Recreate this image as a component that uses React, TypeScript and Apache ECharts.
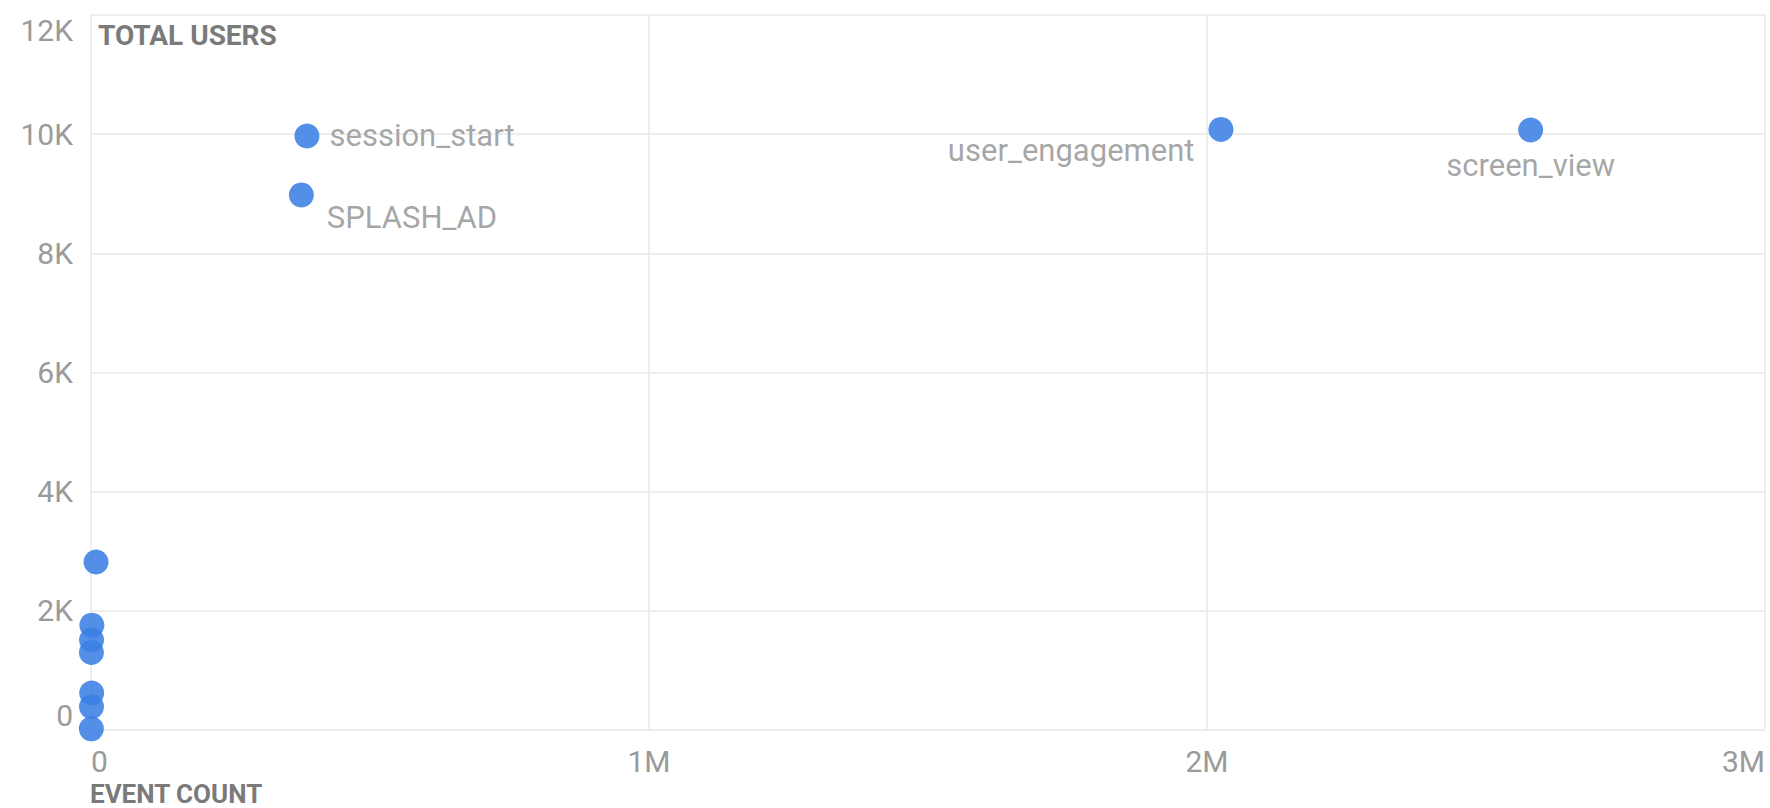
import React, { useEffect, useRef } from "react";
import * as echarts from "echarts";

// Event names (empty = unlabeled small events)
const eventNames: string[] = [
  "screen_view",
  "user_engagement",
  "session_start",
  "SPLASH_AD",
  "",
  "",
  "",
  "",
  "",
  "",
  "",
  "",
];
// Event count (x)
const eventCounts: number[] = [
  2580000, 2025000, 387000, 377000, 9000, 1500, 1000, 800, 1200, 900, 600, 300,
];
// Total users (y)
const totalUsers: number[] = [
  10070, 10080, 9970, 8980, 2820, 1760, 1510, 1300, 620, 390, 20, -40,
];

const xTicks: string[] = ["0", "1M", "2M", "3M"];
const yTicks: string[] = ["0", "2K", "4K", "6K", "8K", "10K", "12K"];

const FONT = "Roboto, 'Noto Sans', sans-serif";
const LABEL_COLOR = "#9a9a9a";

const labelStyles: Record<string, any> = {
  screen_view: { position: "bottom", distance: 8 },
  user_engagement: { position: "left", distance: 14, offset: [0, 21] },
  session_start: { position: "right", distance: 10, offset: [0, 0] },
  SPLASH_AD: { position: "right", distance: 13, offset: [0, 23] },
};

export default function App() {
  const ref = useRef<HTMLDivElement>(null);

  useEffect(() => {
    if (!ref.current) return;
    const chart = echarts.init(ref.current, undefined, { renderer: "svg" });

    const data = eventNames.map((name, i) => {
      const item: any = { name, value: [eventCounts[i], totalUsers[i]] };
      if (name && labelStyles[name]) {
        item.label = {
          show: true,
          formatter: name,
          ...labelStyles[name],
        };
      }
      return item;
    });

    chart.setOption({
      animation: false,
      backgroundColor: "#ffffff",
      grid: { left: 91, right: 5, top: 15, bottom: 78, containLabel: false },
      xAxis: {
        type: "value",
        min: 0,
        max: 3000000,
        interval: 1000000,
        axisLine: { show: false },
        axisTick: { show: false },
        splitLine: { show: true, lineStyle: { color: "#e9e9e9", width: 1.5 } },
        axisLabel: {
          margin: 16,
          fontSize: 30,
          lineHeight: 30,
          fontFamily: FONT,
          color: LABEL_COLOR,
          alignMinLabel: "left",
          alignMaxLabel: "right",
          formatter: (v: number) => xTicks[Math.round(v / 1000000)] ?? "",
        },
      },
      yAxis: {
        type: "value",
        min: 0,
        max: 12000,
        interval: 2000,
        axisLine: { show: false },
        axisTick: { show: false },
        splitLine: { show: true, lineStyle: { color: "#e9e9e9", width: 1.5 } },
        axisLabel: {
          margin: 18,
          fontSize: 30,
          fontFamily: FONT,
          color: LABEL_COLOR,
          verticalAlignMinLabel: "bottom",
          verticalAlignMaxLabel: "top",
          formatter: (v: number) => yTicks[Math.round(v / 2000)] ?? "",
        },
      },
      graphic: [
        {
          type: "text",
          left: 98,
          top: 21,
          style: {
            text: "TOTAL USERS",
            fontSize: 28,
            fontWeight: "bold",
            fontFamily: FONT,
            fill: "#7a7a7a",
          },
        },
        {
          type: "text",
          left: 90,
          top: 781,
          style: {
            text: "EVENT COUNT",
            fontSize: 26,
            lineHeight: 26,
            fontWeight: "bold",
            fontFamily: FONT,
            fill: "#7a7a7a",
          },
        },
      ],
      series: [
        {
          type: "scatter",
          symbolSize: 25,
          itemStyle: { color: "#3b80e4", opacity: 0.88 },
          label: {
            show: false,
            fontSize: 31,
            fontFamily: FONT,
            color: LABEL_COLOR,
          },
          data,
        },
      ],
    });

    return () => chart.dispose();
  }, []);

  return (
    <div
      ref={ref}
      style={{ position: "fixed", left: 0, top: 0, width: 1770, height: 808 }}
    />
  );
}
